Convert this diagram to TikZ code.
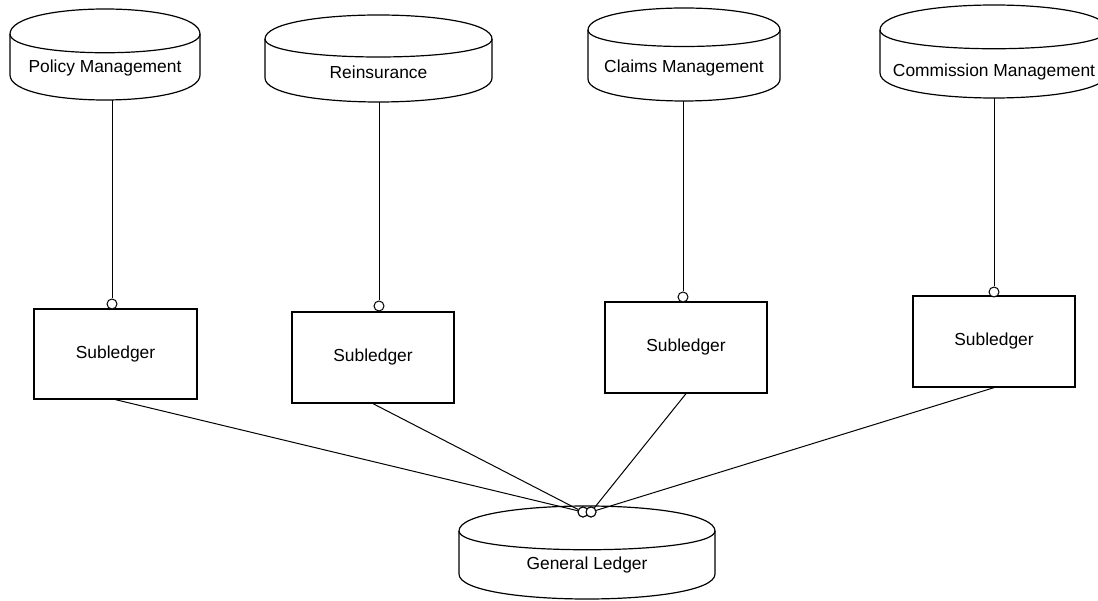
\documentclass[tikz,border=0pt]{standalone}
\usepackage{fontspec}
\setmainfont{Liberation Sans}
\begin{document}
\begin{tikzpicture}[x=1pt,y=-1pt,
  shapeline/.style={draw=black,line width=1.2pt,fill=white},
  conn/.style={draw=black,line width=1pt},
  labeltext/.style={inner sep=0pt,font=\fontsize{17.4}{20}\selectfont},
  ledgerbox/.style={draw=black,line width=1.3pt,fill=white,minimum width=162pt,minimum height=91pt,font=\fontsize{17.4}{20}\selectfont},
  endcirc/.style={circle,draw=black,line width=1pt,fill=white,minimum size=10pt,inner sep=0pt}]
\useasboundingbox (0,0) rectangle (1098,601);
\clip (0,0) rectangle (1098,601);
\newcommand\drawcyl[8]{%
  \draw[shapeline] (#2-#4,#3+#6) .. controls (#2-#4,#3-#6/3) and (#2+#4,#3-#6/3) .. (#2+#4,#3+#6)
    -- (#2+#4,#3+#5-#6) .. controls (#2+#4,#3+#5+#6/3) and (#2-#4,#3+#5+#6/3) .. (#2-#4,#3+#5-#6) -- cycle;
  \draw[line width=1.2pt] (#2-#4,#3+#6) .. controls (#2-#4,#3+2*#6) and (#2+#4,#3+2*#6) .. (#2+#4,#3+#6);
  \node[labeltext] (#1) at (#2,#8) {#7};
  \coordinate (#1-bot) at (#2,#3+#5);
}
% top systems
\drawcyl{pol}{105}{9}{95}{91}{25}{Policy Management}{68}
\drawcyl{rei}{378.5}{15}{113.5}{87}{24}{Reinsurance}{72}
\drawcyl{cla}{684}{8}{96}{93}{22}{Claims Management}{68}
\drawcyl{com}{994}{5}{114}{93}{25}{Commission Management}{72}
% general ledger
\drawcyl{gl}{587}{506}{128}{93}{25}{General Ledger}{565}
% subledgers
\node[ledgerbox,minimum width=163pt,minimum height=90pt] (b1) at (115.5,354) {Subledger};
\node[ledgerbox] (b2) at (373,357.5) {Subledger};
\node[ledgerbox] (b3) at (686,347.5) {Subledger};
\node[ledgerbox] (b4) at (994,341.5) {Subledger};
% end circles
\node[endcirc] (s1) at (112,304) {};
\node[endcirc] (s2) at (379,306) {};
\node[endcirc] (s3) at (683,297) {};
\node[endcirc] (s4) at (994,292) {};
\node[endcirc] (g1) at (583,512) {};
\node[endcirc] (g2) at (591,512) {};
% vertical connectors
\draw[conn] (s1 |- pol-bot) -- (s1);
\draw[conn] (s2 |- rei-bot) -- (s2);
\draw[conn] (s3 |- cla-bot) -- (s3);
\draw[conn] (s4 |- com-bot) -- (s4);
% connectors to general ledger
\draw[conn] (b1.south) -- (g1);
\draw[conn] (b2.south) -- (g1);
\draw[conn] (b3.south) -- (g2);
\draw[conn] (b4.south) -- (g2);
% redraw circles on top
\node[endcirc] at (g1) {};
\node[endcirc] at (g2) {};
\end{tikzpicture}
\end{document}
